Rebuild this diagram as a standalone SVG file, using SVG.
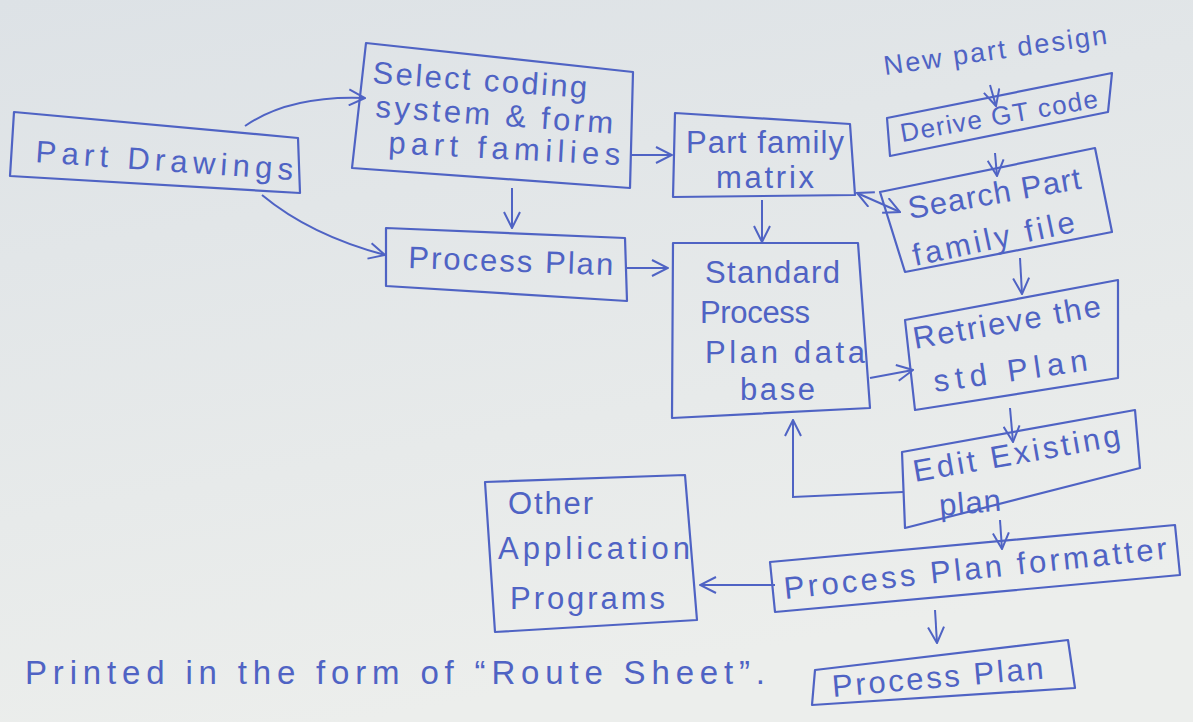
<svg xmlns="http://www.w3.org/2000/svg" width="1193" height="722" viewBox="0 0 1193 722">
<defs>
<linearGradient id="paper" x1="0" y1="0" x2="0.3" y2="1">
<stop offset="0" stop-color="#dde2e6"/>
<stop offset="1" stop-color="#eceeec"/>
</linearGradient>
<marker id="ah" viewBox="0 0 18 18" refX="17" refY="9" markerWidth="18" markerHeight="18" markerUnits="userSpaceOnUse" orient="auto-start-reverse">
<path d="M1,1 L17,9 L1,17" fill="none" stroke="#4f63c4" stroke-width="2"/>
</marker>
<style>
.box{fill:none;stroke:#4f63c4;stroke-width:2.2;stroke-linejoin:round}
.t{font-family:"Liberation Sans","DejaVu Sans",sans-serif;font-size:31px;fill:#4f63c4}
.c{fill:none;stroke:#4f63c4;stroke-width:2;marker-end:url(#ah)}
</style>
</defs>
<rect x="0" y="0" width="1193" height="722" fill="url(#paper)"/>

<g id="part-drawings">
<polygon class="box" points="14,112 298,138 300,193 10,176"/>
<text class="t" x="35" y="162" textLength="258" lengthAdjust="spacing" transform="rotate(4 35 162)">Part Drawings</text>
</g>

<g id="select-coding">
<polygon class="box" points="366,43 633,72 630,188 352,168"/>
<text class="t" x="372" y="83" textLength="215" lengthAdjust="spacing" transform="rotate(4 372 83)">Select coding</text>
<text class="t" x="375" y="117" textLength="238" lengthAdjust="spacing" transform="rotate(4 375 117)">system &amp; form</text>
<text class="t" x="388" y="153" textLength="232" lengthAdjust="spacing" transform="rotate(3 388 153)">part families</text>
</g>

<g id="process-plan-1">
<polygon class="box" points="386,228 625,238 627,301 386,286"/>
<text class="t" x="408" y="268" textLength="205" lengthAdjust="spacing" transform="rotate(2 408 268)">Process Plan</text>
</g>

<g id="part-family-matrix">
<polygon class="box" points="675,113 850,124 855,195 673,197"/>
<text class="t" x="686" y="153" textLength="158" lengthAdjust="spacing">Part family</text>
<text class="t" x="716" y="188" textLength="98" lengthAdjust="spacing">matrix</text>
</g>

<g id="standard-db">
<polygon class="box" points="673,243 858,243 870,408 672,418"/>
<text class="t" x="705" y="283" textLength="135" lengthAdjust="spacing">Standard</text>
<text class="t" x="700" y="323" textLength="110" lengthAdjust="spacing">Process</text>
<text class="t" x="705" y="363" textLength="160" lengthAdjust="spacing">Plan data</text>
<text class="t" x="740" y="400" textLength="75" lengthAdjust="spacing">base</text>
</g>

<g id="new-part-design">
<text class="t" x="885" y="75" textLength="225" lengthAdjust="spacing" style="font-size:27px" transform="rotate(-8 885 75)">New part design</text>
</g>

<g id="derive-gt-code">
<polygon class="box" points="887,118 1112,73 1108,112 890,156"/>
<text class="t" x="902" y="142" textLength="200" lengthAdjust="spacing" style="font-size:26px" transform="rotate(-10 902 142)">Derive GT code</text>
</g>

<g id="search-family-file">
<polygon class="box" points="880,192 1095,148 1112,232 905,272"/>
<text class="t" x="910" y="219" textLength="175" lengthAdjust="spacing" transform="rotate(-10 910 219)">Search Part</text>
<text class="t" x="915" y="266" textLength="165" lengthAdjust="spacing" transform="rotate(-12 915 266)">family file</text>
</g>

<g id="retrieve-plan">
<polygon class="box" points="905,320 1118,280 1118,378 915,410"/>
<text class="t" x="915" y="349" textLength="190" lengthAdjust="spacing" transform="rotate(-10 915 349)">Retrieve the</text>
<text class="t" x="935" y="392" textLength="155" lengthAdjust="spacing" transform="rotate(-8 935 392)">std Plan</text>
</g>

<g id="edit-plan">
<polygon class="box" points="902,452 1135,410 1140,468 905,528"/>
<text class="t" x="915" y="482" textLength="210" lengthAdjust="spacing" transform="rotate(-10 915 482)">Edit Existing</text>
<text class="t" x="940" y="516" textLength="62" lengthAdjust="spacing" transform="rotate(-5 940 516)">plan</text>
</g>

<g id="formatter">
<polygon class="box" points="770,562 1175,525 1180,575 775,612"/>
<text class="t" x="785" y="599" textLength="385" lengthAdjust="spacing" transform="rotate(-6 785 599)">Process Plan formatter</text>
</g>

<g id="other-programs">
<polygon class="box" points="485,482 685,475 697,620 495,632"/>
<text class="t" x="508" y="514" textLength="85" lengthAdjust="spacing">Other</text>
<text class="t" x="498" y="559" textLength="192" lengthAdjust="spacing">Application</text>
<text class="t" x="510" y="609" textLength="155" lengthAdjust="spacing">Programs</text>
</g>

<g id="process-plan-2">
<polygon class="box" points="815,670 1068,640 1075,688 812,705"/>
<text class="t" x="833" y="697" textLength="212" lengthAdjust="spacing" transform="rotate(-5 833 697)">Process Plan</text>
</g>

<g id="caption">
<text class="t" x="25" y="684" textLength="740" lengthAdjust="spacing" style="font-size:33px">Printed in the form of “Route Sheet”.</text>
</g>

<g id="connectors">
<path class="c" d="M245,126 Q290,95 365,98"/>
<path class="c" d="M262,195 Q310,235 385,255"/>
<path class="c" d="M512,188 L512,228"/>
<path class="c" d="M630,155 L672,155"/>
<path class="c" d="M625,268 L668,268"/>
<path class="c" d="M762,200 L762,242"/>
<path class="c" d="M857,193 L900,212" style="marker-start:url(#ah)"/>
<path class="c" d="M990,85 L996,106"/>
<path class="c" d="M995,153 L997,176"/>
<path class="c" d="M1020,258 L1022,294"/>
<path class="c" d="M870,378 L913,370"/>
<path class="c" d="M1010,408 L1013,442"/>
<path class="c" d="M903,492 L793,497 L793,420"/>
<path class="c" d="M1000,520 L1002,549"/>
<path class="c" d="M775,585 L700,585"/>
<path class="c" d="M935,610 L937,643"/>
</g>
</svg>
